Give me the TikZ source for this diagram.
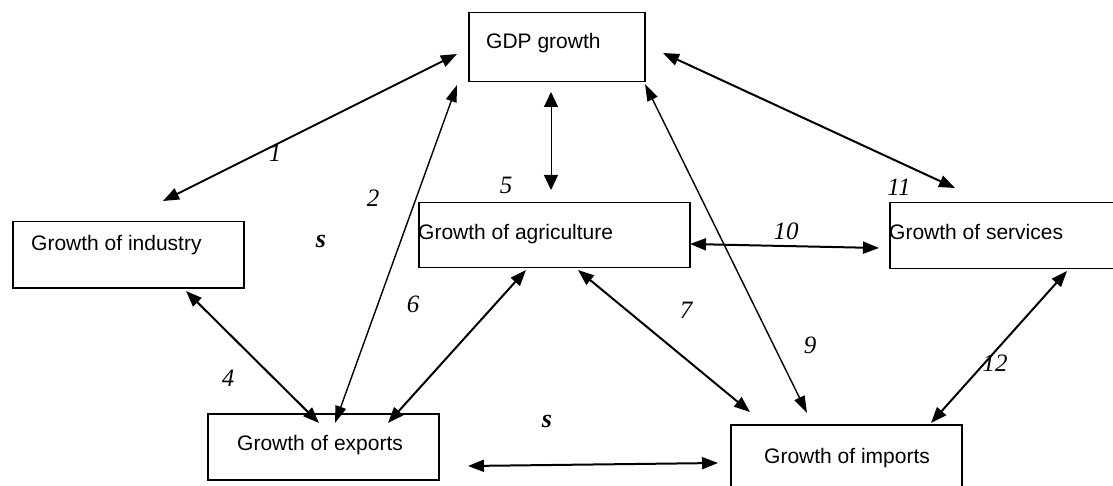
\documentclass[tikz,border=0pt]{standalone}
\usepackage{fontspec}
\setmainfont{Liberation Sans}
\newfontfamily\numfont{Liberation Serif}
\usetikzlibrary{arrows.meta}
\tikzset{
  box/.style={draw=black, line width=1.5pt, rectangle, inner sep=0pt, anchor=north west},
  btext/.style={inner sep=0pt, anchor=base west, font=\fontsize{21}{25}\selectfont},
  num/.style={inner sep=0pt, anchor=center, font=\numfont\itshape\fontsize{25}{29}\selectfont},
  sfont/.style={font=\numfont\bfseries\itshape\fontsize{26}{30}\selectfont},
  link/.style={line width=2pt, {Triangle[length=16pt,width=12pt]}-{Triangle[length=16pt,width=12pt]}},
  thinlink/.style={line width=1.4pt, {Triangle[length=17pt,width=11pt]}-{Triangle[length=17pt,width=11pt]}},
  vlink/.style={line width=1pt, {Triangle[length=15pt,width=14pt]}-{Triangle[length=15pt,width=14pt]}}
}
\begin{document}
\begin{tikzpicture}[x=1pt,y=-1pt]
\useasboundingbox (0,0) rectangle (1113,486);
% boxes
\node[box, minimum width=176pt, minimum height=69pt] (gdp) at (468,12) {};
\node[box, minimum width=231pt, minimum height=66pt] (ind) at (12,221) {};
\node[box, minimum width=271pt, minimum height=65pt] (agr) at (418,202) {};
\node[box, minimum width=232pt, minimum height=66pt] (ser) at (889,202) {};
\node[box, minimum width=231pt, minimum height=66pt] (exp) at (207,413) {};
\node[box, minimum width=231pt, minimum height=66pt] (imp) at (730,424) {};
% box texts
\node[btext] (gdpt) at (486,49) {GDP growth};
\node[btext] (indt) at (31,251) {Growth of industry};
\node[btext] (agrt) at (418,240) {Growth of agriculture};
\node[btext] (sert) at (889,240) {Growth of services};
\node[btext] (expt) at (237,450) {Growth of exports};
\node[btext] (impt) at (764,463) {Growth of imports};
% connector end points
\coordinate (ind-1) at (163,201);
\coordinate (gdp-1) at (457,54);
\coordinate (exp-2) at (335,423);
\coordinate (gdp-2) at (457,85);
\coordinate (gdp-5) at (551,92);
\coordinate (agr-5) at (551,190);
\coordinate (gdp-9) at (645,84);
\coordinate (imp-9) at (807,413);
\coordinate (gdp-11) at (663,53);
\coordinate (ser-11) at (955,188);
\coordinate (agr-10) at (690,244);
\coordinate (ser-10) at (879,248);
\coordinate (ind-4) at (186,291);
\coordinate (exp-4) at (319,423);
\coordinate (agr-6) at (526,270);
\coordinate (exp-6) at (388,423);
\coordinate (agr-7) at (578,270);
\coordinate (imp-7) at (750,412);
\coordinate (ser-12) at (1067,271);
\coordinate (imp-12) at (931,423);
\coordinate (exp-s) at (468,466);
\coordinate (imp-s) at (718,463);
% connectors
\draw[link] (ind-1) -- (gdp-1);
\draw[thinlink] (exp-2) -- (gdp-2);
\draw[vlink] (gdp-5) -- (agr-5);
\draw[thinlink] (gdp-9) -- (imp-9);
\draw[link] (gdp-11) -- (ser-11);
\draw[link] (agr-10) -- (ser-10);
\draw[link] (ind-4) -- (exp-4);
\draw[link] (agr-6) -- (exp-6);
\draw[link] (agr-7) -- (imp-7);
\draw[link] (ser-12) -- (imp-12);
\draw[link] (exp-s) -- (imp-s);
% labels
\node[num] (l1) at (275,153) {1};
\node[num] (l2) at (373,198) {2};
\node[num, sfont] (ls1) at (321,242) {s};
\node[num] (l5) at (506,185) {5};
\node[num] (l11) at (899,187) {11};
\node[num] (l10) at (786,231) {10};
\node[num] (l6) at (413,304) {6};
\node[num] (l4) at (228,378) {4};
\node[num] (l7) at (686,310) {7};
\node[num] (l9) at (810,345) {9};
\node[num] (l12) at (995,363) {12};
\node[num, sfont] (ls2) at (547,421) {s};
\end{tikzpicture}
\end{document}
